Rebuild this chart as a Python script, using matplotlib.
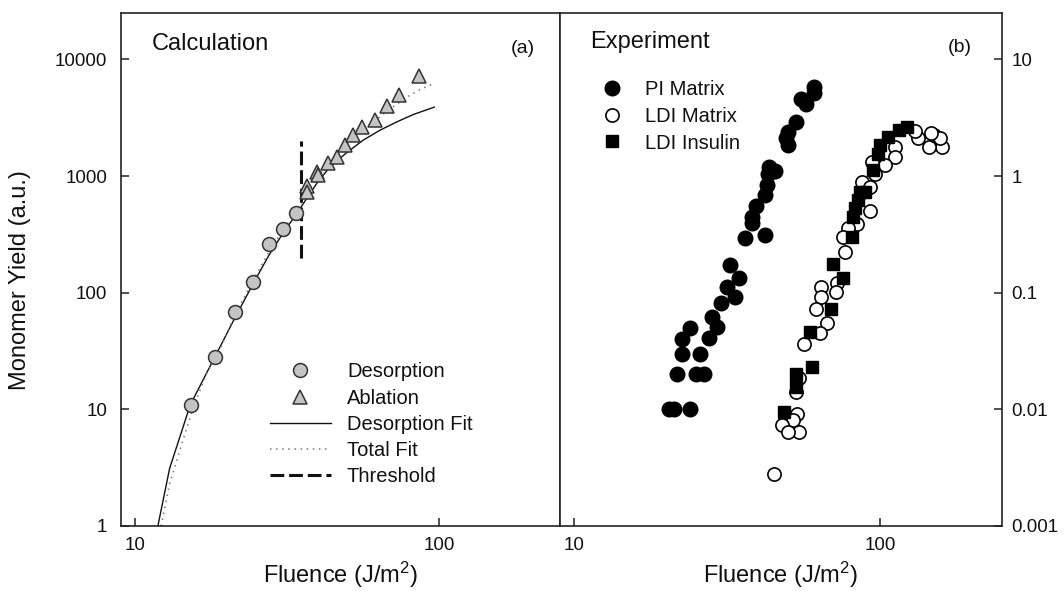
import matplotlib
matplotlib.use("Agg")
import matplotlib.pyplot as plt
from matplotlib.lines import Line2D

plt.rcParams['font.family'] = ['Liberation Sans', 'DejaVu Sans']
plt.rcParams['mathtext.fontset'] = 'custom'
plt.rcParams['mathtext.rm'] = 'Liberation Sans'
plt.rcParams['mathtext.it'] = 'Liberation Sans:italic'

# ---------------- Panel (a): Calculation ----------------
desorption_x = [15.3, 18.3, 21.4, 24.5, 27.6, 30.6, 33.9]
desorption_y = [10.9, 27.9, 67.8, 124, 264, 353, 484]

ablation_x = [36.9, 36.9, 39.8, 40.1, 43.0, 46.3, 49.1, 52.3, 55.7, 61.6, 67.6, 73.9, 86.1]
ablation_y = [824, 724, 1087, 1018, 1282, 1461, 1841, 2241, 2641, 3054, 3968, 4932, 7178]

desorption_fit_x = [11.9, 13.0, 15.2, 18.3, 21.4, 24.5, 27.6, 30.6, 33.9, 36.7, 39.8,
                    43.8, 49.6, 56.3, 63.9, 72.6, 82.3, 96.5]
desorption_fit_y = [1.0, 3.1, 10.9, 28, 62, 120, 210, 320, 470, 640, 880,
                    1200, 1580, 2030, 2470, 2910, 3370, 3900]

total_fit_x = [12.2, 13.0, 14.4, 15.6, 17.2, 18.8, 21.4, 24.5, 27.6, 30.6, 33.9, 36.7,
               40.0, 46.0, 52.0, 60.0, 70.0, 78.3, 86.5, 95.8]
total_fit_y = [1.0, 2.3, 5.5, 10.5, 20.3, 30.2, 66, 128, 225, 340, 500, 700,
               1000, 1450, 2050, 2850, 3850, 4750, 5500, 6200]

threshold_x = [35.2, 35.2]
threshold_y = [200, 2000]

# ---------------- Panel (b): Experiment ----------------
pi_x = [60.7, 60.7, 55.3, 57.1, 53.0, 50.0, 49.1, 50.0, 43.5, 45.2, 42.9, 42.6, 41.9,
        39.3, 38.2, 38.2, 36.3, 41.9, 32.3, 34.7, 31.7, 33.6, 30.2, 28.3, 29.4, 24.0,
        27.6, 22.5, 22.5, 25.8, 21.7, 25.0, 26.6, 20.4, 21.2, 23.9]
pi_y = [5.81, 5.16, 4.62, 4.11, 2.91, 2.39, 2.10, 1.84, 1.20, 1.11, 1.05, 0.835, 0.685,
        0.552, 0.447, 0.397, 0.292, 0.312, 0.172, 0.133, 0.112, 0.092, 0.081, 0.062,
        0.051, 0.050, 0.041, 0.040, 0.030, 0.030, 0.020, 0.020, 0.020, 0.010, 0.010, 0.010]

ldi_matrix_x = [159.6, 144.2, 132.8, 149.7, 157.4, 146.3, 130.3, 112.0, 112.0, 103.8,
                96.3, 93.9, 87.1, 92.7, 92.7, 83.8, 78.7, 75.7, 76.7, 64.3, 72.1, 71.7,
                64.3, 61.9, 67.1, 63.6, 56.2, 54.5, 53.2, 53.7, 51.9, 54.5, 47.9, 50.0, 45.0]
ldi_matrix_y = [1.76, 1.78, 2.10, 2.24, 2.10, 2.35, 2.44, 1.78, 1.46, 1.24,
                1.05, 1.32, 0.89, 0.81, 0.50, 0.39, 0.356, 0.30, 0.224, 0.112, 0.120, 0.102,
                0.092, 0.073, 0.055, 0.045, 0.036, 0.0184, 0.0142, 0.0092, 0.0081, 0.0064,
                0.0073, 0.0064, 0.0028]

ldi_insulin_x = [122.5, 114.9, 106.4, 100.0, 98.7, 95.0, 89.3, 86.0, 84.9, 82.8, 81.7,
                 80.7, 70.3, 75.7, 69.3, 58.9, 60.1, 53.2, 53.2, 48.4]
ldi_insulin_y = [2.64, 2.47, 2.17, 1.84, 1.56, 1.12, 0.73, 0.73, 0.62, 0.53, 0.447,
                 0.30, 0.176, 0.135, 0.073, 0.046, 0.023, 0.020, 0.0154, 0.0094]

x_ticks = [10, 100]
x_tick_labels = ['10', '100']
left_y_ticks = [1, 10, 100, 1000, 10000]
left_y_tick_labels = ['1', '10', '100', '1000', '10000']
right_y_ticks = [0.001, 0.01, 0.1, 1, 10]
right_y_tick_labels = ['0.001', '0.01', '0.1', '1', '10']

W, H = 1064, 597
fig = plt.figure(figsize=(W / 100, H / 100), dpi=100)

def px_axes(l, r, t, b):
    return [l / W, 1 - b / H, (r - l) / W, (b - t) / H]

axL = fig.add_axes(px_axes(121, 560, 13, 526))
axR = fig.add_axes(px_axes(560, 1002, 13, 526))

spine_c = '#222222'
text_c = '#111111'
for ax in (axL, axR):
    ax.set_xscale('log')
    ax.set_yscale('log')
    ax.set_xlim(9.0, 250)
    for s in ax.spines.values():
        s.set_color(spine_c)
        s.set_linewidth(1.2)
    ax.set_xticks(x_ticks)
    ax.set_xticklabels(x_tick_labels)
    ax.minorticks_off()
    ax.tick_params(axis='both', which='major', direction='in', length=6, width=1.1,
                   color=spine_c, labelsize=13.5, labelcolor=text_c)
    ax.tick_params(axis='x', pad=8)

axL.set_ylim(1, 25000)
axL.set_yticks(left_y_ticks)
axL.set_yticklabels(left_y_tick_labels)
axL.minorticks_off()
axL.tick_params(axis='y', pad=10)

axR.set_ylim(0.001, 25)
axR.yaxis.tick_right()
axR.set_yticks(right_y_ticks)
axR.set_yticklabels(right_y_tick_labels)
axR.minorticks_off()
axR.tick_params(axis='y', which='both', left=False, right=True, pad=7)

# ---- left panel plotting ----
axL.plot(desorption_fit_x, desorption_fit_y, color='#111111', lw=1.0, zorder=2)
axL.plot(total_fit_x, total_fit_y, color='#777777', lw=1.1, linestyle=(0, (1, 3)), zorder=2)
axL.plot(threshold_x, threshold_y, color='#111111', lw=2.2, dashes=(4.5, 1.6), zorder=3)
axL.plot(desorption_x, desorption_y, 'o', ms=10, mfc='#c4c4c4', mec='#333333', mew=1.1,
         zorder=4)
axL.plot(ablation_x, ablation_y, '^', ms=10, mfc='#c4c4c4', mec='#333333', mew=1.1,
         zorder=4)

handlesL = [
    Line2D([], [], marker='o', ls='none', ms=10, mfc='#c4c4c4', mec='#333333', mew=1.1),
    Line2D([], [], marker='^', ls='none', ms=10, mfc='#c4c4c4', mec='#333333', mew=1.1),
    Line2D([], [], color='#111111', lw=1.0),
    Line2D([], [], color='#777777', lw=1.1, linestyle=(0, (1, 3))),
    Line2D([], [], color='#111111', lw=2.2, dashes=(4.5, 1.6)),
]
labelsL = ['Desorption', 'Ablation', 'Desorption Fit', 'Total Fit', 'Threshold']
axL.legend(handlesL, labelsL, loc='upper left', bbox_to_anchor=(0.339, 0.319),
           frameon=False, fontsize=14.5, handlelength=3.03, handletextpad=0.8,
           labelspacing=0.36, borderpad=0, borderaxespad=0, labelcolor=text_c)

axL.text(0.070, 0.940, 'Calculation', transform=axL.transAxes, fontsize=17,
         ha='left', va='center', color=text_c)
axL.text(0.943, 0.931, '(a)', transform=axL.transAxes, fontsize=14,
         ha='right', va='center', color=text_c)

# ---- right panel plotting ----
axR.plot(pi_x, pi_y, 'o', ms=10.5, mfc='black', mec='black', zorder=3)
axR.plot(ldi_matrix_x, ldi_matrix_y, 'o', ms=9.5, mfc='white', mec='black', mew=1.2,
         zorder=3)
axR.plot(ldi_insulin_x, ldi_insulin_y, 's', ms=8.5, mfc='black', mec='black', zorder=4)

handlesR = [
    Line2D([], [], marker='o', ls='none', ms=10.5, mfc='black', mec='black'),
    Line2D([], [], marker='o', ls='none', ms=9.5, mfc='white', mec='black', mew=1.2),
    Line2D([], [], marker='s', ls='none', ms=8.5, mfc='black', mec='black'),
]
labelsR = ['PI Matrix', 'LDI Matrix', 'LDI Insulin']
axR.legend(handlesR, labelsR, loc='upper left', bbox_to_anchor=(0.0853, 0.869),
           frameon=False, fontsize=14.5, handlelength=1.4, handletextpad=0.96,
           labelspacing=0.38, borderpad=0, borderaxespad=0, labelcolor=text_c)

axR.text(0.068, 0.943, 'Experiment', transform=axR.transAxes, fontsize=17,
         ha='left', va='center', color=text_c)
axR.text(0.931, 0.933, '(b)', transform=axR.transAxes, fontsize=14,
         ha='right', va='center', color=text_c)

# ---- axis labels ----
fig.text(20 / W, 1 - 280 / H, 'Monomer Yield (a.u.)', rotation=90, fontsize=17,
         ha='center', va='center', color=text_c)
fig.text((121 + 560) / 2 / W, 1 - 575 / H, 'Fluence (J/m$^2$)', fontsize=17,
         ha='center', va='center', color=text_c)
fig.text((560 + 1002) / 2 / W, 1 - 575 / H, 'Fluence (J/m$^2$)', fontsize=17,
         ha='center', va='center', color=text_c)

fig.savefig('out.png', dpi=100)
